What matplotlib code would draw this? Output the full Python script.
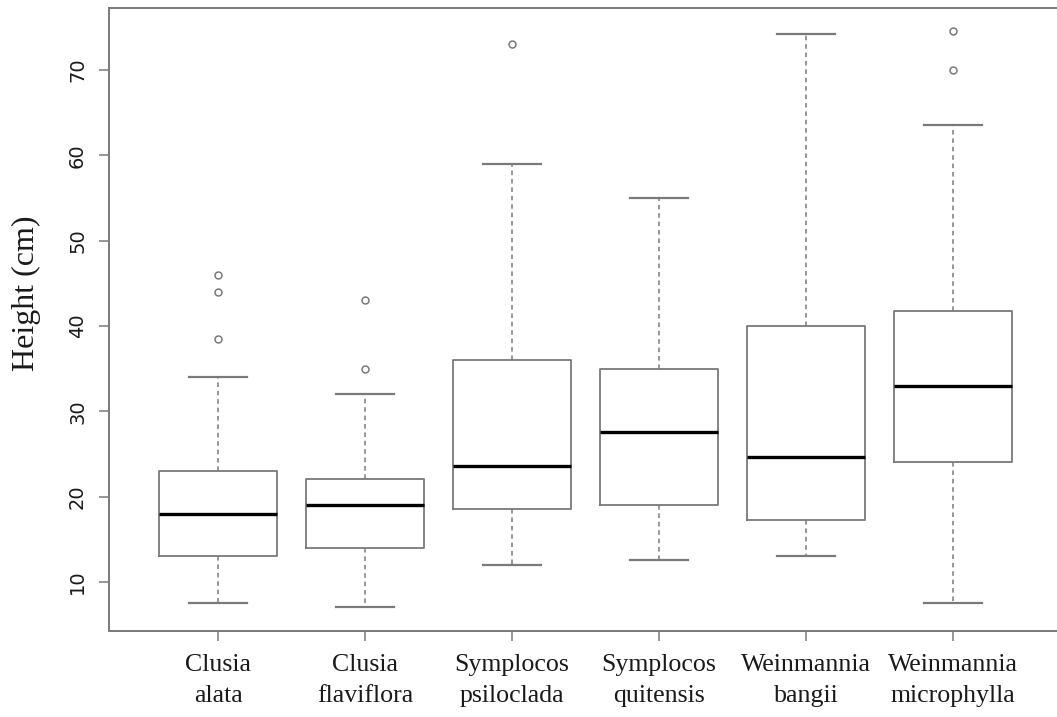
import matplotlib
matplotlib.use("Agg")
import matplotlib.pyplot as plt

# species labels (two lines each, as on the axis)
species = ["Clusia\nalata", "Clusia\nflaviflora", "Symplocos\npsiloclada",
           "Symplocos\nquitensis", "Weinmannia\nbangii", "Weinmannia\nmicrophylla"]

# five-number summaries
whis_lo = [7.5, 7.0, 12.0, 12.5, 13.0, 7.5]
q1      = [13.0, 14.0, 18.5, 19.0, 17.2, 24.0]
median  = [18.0, 19.0, 23.6, 27.6, 24.6, 33.0]
q3      = [23.0, 22.0, 36.0, 35.0, 40.0, 41.7]
whis_hi = [34.0, 32.0, 59.0, 55.0, 74.2, 63.5]
outliers = [[38.5, 44.0, 46.0], [35.0, 43.0], [73.0], [], [], [70.0, 74.6]]

yticks = [10, 20, 30, 40, 50, 60, 70]

grey = "#7a7a7a"

fig = plt.figure(figsize=(10.57, 7.17), dpi=100)
W, H = 1057.0, 717.0
# plot region in pixels: left 109, right 1062 (runs off the image), top 8, bottom 631
ax = fig.add_axes([109.3 / W, 1 - 630.7 / H, (1061.7 - 109.3) / W, (630.7 - 8) / H])

stats = []
for i in range(len(species)):
    stats.append(dict(med=median[i], q1=q1[i], q3=q3[i],
                      whislo=whis_lo[i], whishi=whis_hi[i], fliers=outliers[i]))

pos = list(range(1, len(species) + 1))
ax.bxp(stats, positions=pos, widths=0.8, capwidths=0.4, showfliers=True,
       boxprops=dict(color=grey, linewidth=1.3),
       medianprops=dict(color="black", linewidth=2.4, solid_capstyle="butt"),
       whiskerprops=dict(color=grey, linewidth=1.1, linestyle=(0, (3, 2.5))),
       capprops=dict(color=grey, linewidth=1.6),
       flierprops=dict(marker="o", markersize=5, markerfacecolor="none",
                       markeredgecolor=grey, markeredgewidth=1.1, linestyle="none"))

ax.set_xlim(0.26, 6.74)
ax.set_ylim(4.27, 77.27)

ax.set_xticks(pos)
ax.set_xticklabels(species, family="Liberation Serif", fontsize=18.6, color="#1a1a1a",
                   linespacing=1.5)
ax.set_yticks(yticks)
ax.set_yticklabels([str(v) for v in yticks], rotation=90, va="center",
                   family="DejaVu Sans", fontsize=14, color="#1a1a1a")
ax.tick_params(axis="both", direction="out", length=7, width=1.1, color=grey)
ax.tick_params(axis="x", pad=10)
ax.tick_params(axis="y", pad=9)

for sp in ax.spines.values():
    sp.set_color(grey)
    sp.set_linewidth(1.4)

fig.text(26 / W, 1 - 293 / H, "Height (cm)", rotation=90, ha="center", va="center",
         family="Liberation Serif", fontsize=23, color="#1a1a1a")

fig.savefig("out.png", dpi=100)
